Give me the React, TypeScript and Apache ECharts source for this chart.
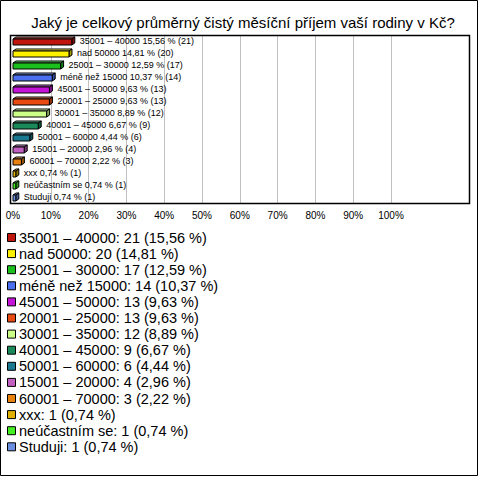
import React, { useEffect, useRef } from "react";
import * as echarts from "echarts";

const title = "Jaký je celkový průměrný čistý měsíční příjem vaší rodiny v Kč?";
const categories = [
  "35001 – 40000",
  "nad 50000",
  "25001 – 30000",
  "méně než 15000",
  "45001 – 50000",
  "20001 – 25000",
  "30001 – 35000",
  "40001 – 45000",
  "50001 – 60000",
  "15001 – 20000",
  "60001 – 70000",
  "xxx",
  "neúčastním se",
  "Studuji",
];
const counts = [21, 20, 17, 14, 13, 13, 12, 9, 6, 4, 3, 1, 1, 1];
const percents = [15.56, 14.81, 12.59, 10.37, 9.63, 9.63, 8.89, 6.67, 4.44, 2.96, 2.22, 0.74, 0.74, 0.74];
const colors = [
  "#c0160e", "#fff000", "#1cc01c", "#4a70f0", "#c414d8", "#e84a12", "#ccff88",
  "#1a8a5a", "#1a7890", "#c060c0", "#e8800e", "#e0b000", "#44ee22", "#6a8ee0",
];
const xTicks = [0, 10, 20, 30, 40, 50, 60, 70, 80, 90, 100];

const FONT = "'Liberation Sans', Arial, sans-serif";

function fmt(v: number) {
  return v.toFixed(2).replace(".", ",");
}

function shade(hex: string, f: number) {
  const n = parseInt(hex.slice(1), 16);
  let r = (n >> 16) & 255, g = (n >> 8) & 255, b = n & 255;
  if (f < 0) {
    r = Math.round(r * (1 + f)); g = Math.round(g * (1 + f)); b = Math.round(b * (1 + f));
  } else {
    r = Math.round(r + (255 - r) * f); g = Math.round(g + (255 - g) * f); b = Math.round(b + (255 - b) * f);
  }
  return `rgb(${r},${g},${b})`;
}

export default function App() {
  const ref = useRef<HTMLDivElement>(null);
  useEffect(() => {
    if (!ref.current) return;
    const chart = echarts.init(ref.current, undefined, { renderer: "svg" });

    const legendItems: any[] = [];
    categories.forEach((c, i) => {
      const y = 237.5 + i * 16.1;
      legendItems.push({
        type: "rect",
        shape: { x: 7.5, y: y - 4, width: 8, height: 8 },
        style: { fill: colors[i], stroke: "#000", lineWidth: 1 },
      });
      legendItems.push({
        type: "text",
        x: 19,
        y: y,
        style: {
          text: `${c}: ${counts[i]} (${fmt(percents[i])} %)`,
          fontSize: 14.5,
          fontFamily: FONT,
          fill: "#000",
          verticalAlign: "middle",
        },
      });
    });

    const option: any = {
      animation: false,
      backgroundColor: "#fff",
      title: {
        text: title,
        left: 238,
        textAlign: "center",
        top: 10,
        textStyle: { fontSize: 15, fontWeight: "normal", color: "#000", fontFamily: FONT },
      },
      grid: { left: 13, right: 89, top: 35, height: 168, containLabel: false },
      xAxis: {
        type: "value",
        min: 0,
        max: 100,
        interval: 10,
        axisLine: { show: false },
        axisTick: { show: false },
        axisLabel: {
          formatter: (v: number) => (xTicks.includes(v) ? `${v}%` : ""),
          fontSize: 10,
          color: "#000",
          fontFamily: FONT,
          margin: 7,
        },
        splitLine: { show: true, showMinLine: false, lineStyle: { color: "#c0c0c0", width: 1 } },
      },
      yAxis: {
        type: "category",
        data: categories,
        inverse: true,
        show: false,
      },
      graphic: [
        {
          type: "rect",
          shape: { x: 0.5, y: 0.5, width: 477, height: 475 },
          style: { fill: "none", stroke: "#000", lineWidth: 1 },
          z: 100,
        },
        {
          type: "rect",
          shape: { x: 10.5, y: 35.5, width: 459, height: 168 },
          style: { fill: "none", stroke: "#000", lineWidth: 1.5 },
          z: 100,
        },
        ...legendItems,
      ],
      series: [
        {
          type: "custom",
          encode: { x: 0, y: 1 },
          data: percents.map((p, i) => [p, i]),
          renderItem: (params: any, api: any) => {
            const v = api.value(0);
            const idx = api.value(1);
            const p0 = api.coord([0, idx]);
            const p1 = api.coord([v, idx]);
            const h = 6;
            const dx = 3;
            const dy = 2;
            const x0 = p0[0];
            const x1 = p1[0];
            const yt = p0[1] - h / 2 + 1;
            const yb = yt + h;
            const col = colors[idx];
            return {
              type: "group",
              children: [
                {
                  type: "polygon",
                  shape: { points: [[x0, yt], [x0 + dx, yt - dy], [x1 + dx, yt - dy], [x1, yt]] },
                  style: { fill: shade(col, 0.35), stroke: "#000", lineWidth: 1 },
                },
                {
                  type: "polygon",
                  shape: { points: [[x1, yt], [x1 + dx, yt - dy], [x1 + dx, yb - dy], [x1, yb]] },
                  style: { fill: shade(col, -0.35), stroke: "#000", lineWidth: 1 },
                },
                {
                  type: "rect",
                  shape: { x: x0, y: yt, width: Math.max(x1 - x0, 0), height: h },
                  style: { fill: col, stroke: "#000", lineWidth: 1 },
                },
                {
                  type: "text",
                  x: x1 + dx + 5,
                  y: p0[1],
                  style: {
                    text: `${categories[idx]} ${fmt(v)} % (${counts[idx]})`,
                    fontSize: 9,
                    fontFamily: FONT,
                    fill: "#000",
                    verticalAlign: "middle",
                  },
                },
              ],
            };
          },
        },
      ],
    };
    chart.setOption(option);
    return () => chart.dispose();
  }, []);
  return (
    <div
      ref={ref}
      style={{ position: "fixed", left: 0, top: 0, width: 480, height: 477 }}
    />
  );
}
